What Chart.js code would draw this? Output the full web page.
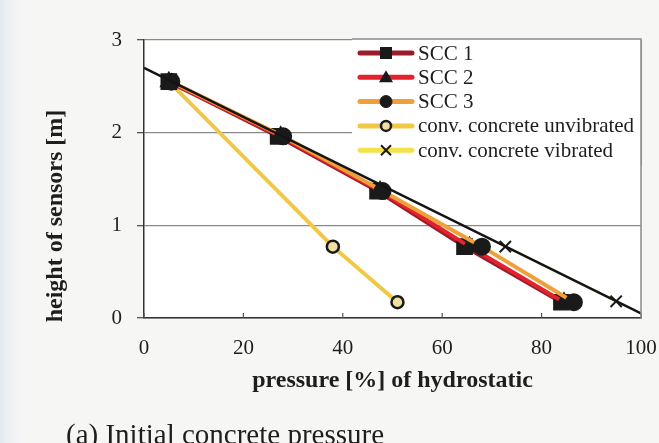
<!DOCTYPE html>
<html>
<head>
<meta charset="utf-8">
<script src="https://cdn.jsdelivr.net/npm/chart.js"></script>
<style>
html,body{margin:0;padding:0;background:#f5f5f4;}
#wrap{width:659px;height:443px;position:relative;}
</style>
</head>
<body>
<div id="wrap"><canvas id="chart" width="659" height="443"></canvas></div>
<script>

// sensor heights [m]
const heights = [2.55, 1.96, 1.37, 0.77, 0.17];

// pressure [%] of hydrostatic per mix
const scc1 = [5, 27, 47, 64.5, 84];
const scc2 = [5, 27.5, 47.5, 65.5, 84.5];
const scc3 = [5.5, 28, 48, 68, 86.5];

const unvibHeights = [2.55, 0.77, 0.17];
const unvibrated = [5, 38, 51];

const vibHeights = [0.77, 0.18];
const vibrated = [72.7, 95];

// hydrostatic reference line
const hydroX = [0, 100];
const hydroY = [2.7, 0.05];

const xTicks = [0, 20, 40, 60, 80, 100];
const yTicks = [0, 1, 2, 3];

const serif = "'Liberation Serif','Times New Roman',serif";

function pts(xs, ys){
return xs.map((x,i)=>({x:x, y:ys[i]}));
}

const datasets = [
{
label:"SCC 1",
data:pts(scc1,heights),
borderColor:"#9c1b2a",
pointBackgroundColor:"#1a1a1a",
pointBorderColor:"#1a1a1a",
pointStyle:"rect",
pointRadius:9,
borderWidth:4,
order:4
},
{
label:"SCC 2",
data:pts(scc2,heights),
borderColor:"#e2222c",
pointBackgroundColor:"#1a1a1a",
pointBorderColor:"#1a1a1a",
pointStyle:"triangle",
pointRadius:7,
borderWidth:4,
order:3
},
{
label:"SCC 3",
data:pts(scc3,heights),
borderColor:"#f0a038",
pointBackgroundColor:"#1a1a1a",
pointBorderColor:"#1a1a1a",
pointStyle:"circle",
pointRadius:7,
borderWidth:4,
order:2
},
{
label:"conv. concrete unvibrated",
data:pts(unvibrated,unvibHeights),
borderColor:"#f2c744",
pointBackgroundColor:"#f0e0a0",
pointBorderColor:"#1a1a1a",
pointBorderWidth:2.5,
pointStyle:"circle",
pointRadius:[0,6,6],
borderWidth:4,
order:6
},
{
label:"conv. concrete vibrated",
data:pts(vibrated,vibHeights),
borderColor:"#f3e24a",
pointBackgroundColor:"#1a1a1a",
pointBorderColor:"#1a1a1a",
pointBorderWidth:2,
pointStyle:"crossRot",
pointRadius:8,
borderWidth:2,
order:5
},
{
label:"hydrostatic",
data:pts(hydroX,hydroY),
borderColor:"#141414",
borderWidth:2.5,
pointRadius:0,
order:1
}
];

// page + white plot area
const background = {
id:"background",
beforeDraw(chart){
const c=chart.ctx, a=chart.chartArea;
c.save();
c.fillStyle="#f6f6f5";
c.fillRect(0,0,chart.width,chart.height);
const g=c.createLinearGradient(0,0,30,0);
g.addColorStop(0,"#e3eaf2");
g.addColorStop(1,"rgba(246,246,245,0)");
c.fillStyle=g;
c.fillRect(0,0,30,chart.height);
c.fillStyle="#ffffff";
c.fillRect(a.left,a.top,a.right-a.left,a.bottom-a.top);
c.restore();
}
};

// inward x ticks, right frame, legend, titles, caption
const extras = {
id:"extras",
afterDatasetsDraw(chart){
const c=chart.ctx, a=chart.chartArea, xs=chart.scales.x;
c.save();
c.strokeStyle="#555";
c.lineWidth=1.2;
xTicks.forEach(v=>{
const px=xs.getPixelForValue(v);
c.beginPath();c.moveTo(px,a.bottom);c.lineTo(px,a.bottom-5);c.stroke();
});
c.strokeStyle="#8a8a8a";
c.lineWidth=1.5;
c.beginPath();c.moveTo(a.right,a.top);c.lineTo(a.right,a.bottom);c.stroke();

// legend box
const lx=352, ly=38, lw=a.right-352, lh=128;
c.fillStyle="#ffffff";
c.fillRect(lx,ly,lw,lh);
c.strokeStyle="#8a8a8a";
c.beginPath();c.moveTo(lx,ly+1);c.lineTo(lx+lw,ly+1);c.lineTo(lx+lw,ly+lh);c.stroke();

datasets.slice(0,5).forEach((d,i)=>{
const cy = 53 + i*24.3;
c.strokeStyle=d.borderColor;
c.lineWidth=5;
c.lineCap="round";
c.beginPath();c.moveTo(360,cy);c.lineTo(412,cy);c.stroke();
c.lineCap="butt";
c.fillStyle=d.pointBackgroundColor;
c.strokeStyle=d.pointBorderColor;
c.lineWidth=d.pointBorderWidth||1;
c.beginPath();
if(d.pointStyle==="rect"){c.rect(380,cy-6,12,12);c.fill();}
else if(d.pointStyle==="triangle"){c.moveTo(386,cy-7);c.lineTo(393,cy+5);c.lineTo(379,cy+5);c.closePath();c.fill();}
else if(d.pointStyle==="circle"){c.arc(386,cy,i===3?5:6,0,Math.PI*2);c.fill();c.stroke();}
else {c.moveTo(381,cy-5);c.lineTo(391,cy+5);c.moveTo(391,cy-5);c.lineTo(381,cy+5);c.stroke();}
c.fillStyle="#1e1e1e";
c.font="21px "+serif;
c.textBaseline="middle";
c.textAlign="left";
c.fillText(d.label,418,cy+1);
});

// axis titles
c.fillStyle="#1e1e1e";
c.font="bold 24px "+serif;
c.textAlign="center";
c.textBaseline="middle";
c.fillText("pressure [%] of hydrostatic",(a.left+a.right)/2,381);
c.save();
c.translate(56,216);
c.rotate(-Math.PI/2);
c.fillText("height of sensors [m]",0,0);
c.restore();

// caption
c.font="29px "+serif;
c.textAlign="left";
c.textBaseline="alphabetic";
c.fillText("(a) Initial concrete pressure",66,444);
c.restore();
}
};

new Chart(document.getElementById("chart"),{
type:"scatter",
data:{datasets:datasets},
options:{
responsive:false,
animation:false,
showLine:true,
layout:{padding:{left:18,top:40,right:18,bottom:0}},
plugins:{
legend:{display:false},
tooltip:{enabled:false}
},
scales:{
x:{
type:"linear",
min:0,max:100,
afterBuildTicks(s){s.ticks=xTicks.map(v=>({value:v}));},
afterFit(s){s.height=125;s.paddingLeft=0;s.paddingRight=0;},
grid:{display:true,drawOnChartArea:false,drawTicks:false},
border:{display:true,color:"#333",width:1.5},
ticks:{color:"#1e1e1e",padding:18,font:{family:serif,size:21}}
},
y:{
type:"linear",
min:0,max:3,
afterBuildTicks(s){s.ticks=yTicks.map(v=>({value:v}));},
afterFit(s){s.width=126;s.paddingTop=0;s.paddingBottom=0;},
grid:{color:"#8a8a8a",lineWidth:1.3,tickLength:7,tickColor:"#555"},
border:{display:true,color:"#333",width:1.5},
ticks:{color:"#1e1e1e",padding:15,font:{family:serif,size:21}}
}
}
},
plugins:[background,extras]
});
</script>
</body>
</html>
